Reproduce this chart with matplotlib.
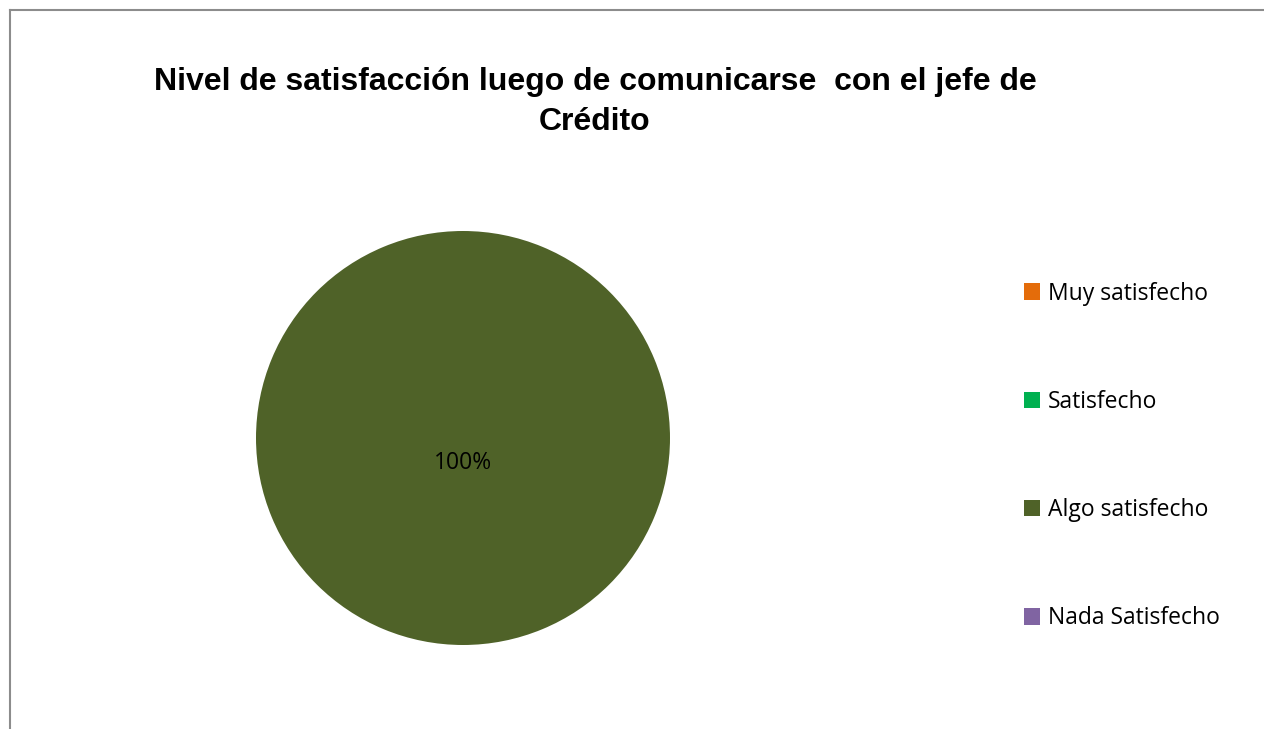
import matplotlib
matplotlib.use("Agg")
import matplotlib.pyplot as plt
from matplotlib.lines import Line2D
from matplotlib.patches import Patch

# survey answers (share of respondents)
categories = ["Muy satisfecho", "Satisfecho", "Algo satisfecho", "Nada Satisfecho"]
values = [0, 0, 100, 0]
colors = ["#E46C0A", "#00B050", "#4F6228", "#8064A2"]

title = "Nivel de satisfacción luego de comunicarse  con el jefe de\nCrédito"

W, H = 1264, 729
fig = plt.figure(figsize=(W / 100, H / 100), dpi=100)

# chart frame (only left and top edges show)
fig.add_artist(Line2D([10.5 / W, 10.5 / W], [0, 1 - 9.5 / H], color="#8c8c8c", lw=1.5))
fig.add_artist(Line2D([10 / W, 1], [1 - 9.5 / H, 1 - 9.5 / H], color="#8c8c8c", lw=1.5))

fig.text(595 / W, 1 - 102 / H, title, ha="center", va="center",
         fontsize=23, fontweight="bold", family="Liberation Sans", linespacing=1.4)

cx, cy, r = 463, 438, 207
ax = fig.add_axes([(cx - r) / W, (H - cy - r) / H, 2 * r / W, 2 * r / H])


def pct_label(p):
    return f"{p:.0f}%" if p > 0 else ""


wedges, texts, autotexts = ax.pie(values, colors=colors, startangle=90, counterclock=False,
                                  autopct=pct_label, pctdistance=0.12,
                                  textprops=dict(fontsize=16.5, family="Open Sans", color="black"))
ax.set_xlim(-1, 1)
ax.set_ylim(-1, 1)
ax.set_aspect("equal")

handles = [Patch(facecolor=c, edgecolor="none") for c in colors]
fig.legend(handles, categories, loc="center left", bbox_to_anchor=(1003 / W, 1 - 456 / H),
           frameon=False, handlelength=0.7, handleheight=0.7, handletextpad=0.35,
           labelspacing=3.68, prop=dict(family="Open Sans", size=16.5))

fig.savefig("out.png", dpi=100)
